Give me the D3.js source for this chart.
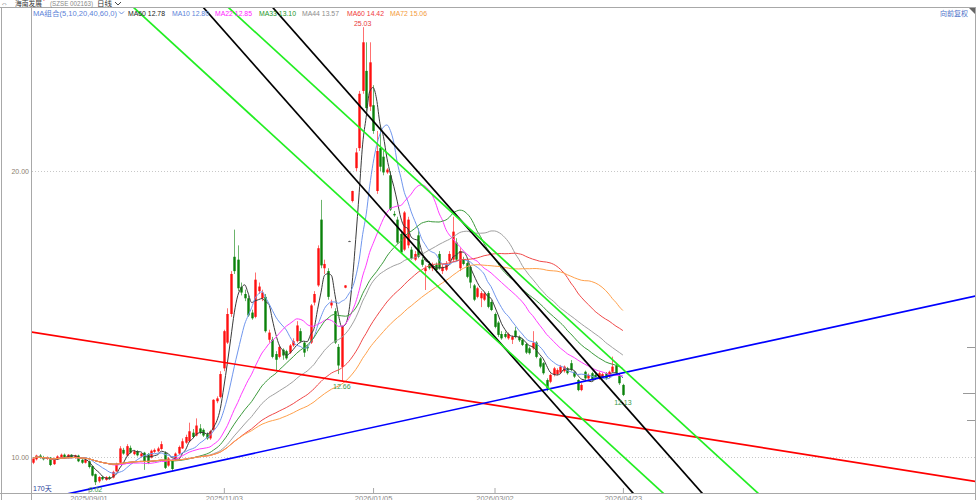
<!DOCTYPE html>
<html><head><meta charset="utf-8">
<script src="https://cdn.jsdelivr.net/npm/d3@7"></script>
<style>
html,body{margin:0;padding:0;background:#fff;}
svg{display:block;font-family:"Liberation Sans","Noto Sans CJK SC",sans-serif;}
</style></head>
<body>
<svg id="chart" width="976" height="500"></svg>
<script>
// ---------- DATA ----------
const opens = [9.80,9.92,10.05,10.00,9.93,9.98,9.75,9.92,9.98,10.08,9.98,10.08,9.98,10.05,9.90,9.80,9.85,9.68,9.40,9.15,
9.30,9.20,9.30,9.28,9.50,9.80,10.25,10.05,10.32,10.10,10.20,10.02,10.15,10.10,9.98,10.18,10.20,10.28,10.15,9.70,
9.88,9.90,10.12,10.30,10.50,10.55,10.85,10.75,11.00,10.95,10.80,10.65,10.95,11.95,12.10,13.10,14.00,15.00,17.00,16.90,
15.95,15.70,15.55,15.05,14.90,15.80,15.55,15.60,14.10,14.10,13.60,13.50,13.75,13.70,13.65,13.90,14.05,14.40,14.00,13.86,
14.00,15.40,16.00,18.30,16.60,16.50,15.30,15.10,13.85,13.15,15.92,17.55,18.95,20.10,20.80,22.80,23.50,22.25,22.30,19.30,
20.80,20.50,19.95,19.85,18.50,18.30,17.80,17.25,17.40,17.25,16.90,17.75,16.90,16.50,16.75,16.60,16.72,17.10,16.50,16.55,
16.85,16.90,17.50,16.60,16.90,16.78,16.65,16.00,15.60,15.55,15.50,15.73,15.42,15.00,14.70,14.30,14.30,14.15,14.10,14.42,
14.20,14.10,13.95,13.80,13.80,14.00,13.45,13.28,12.69,12.63,12.87,12.90,12.95,13.00,13.10,13.28,12.98,12.69,12.34,12.98,
12.75,12.93,12.87,12.75,12.80,12.93,12.80,12.98,13.20,12.87,12.52];
const highs = [10.00,10.08,10.10,10.04,10.02,10.00,9.98,10.06,10.12,10.12,10.10,10.10,10.08,10.08,9.94,9.93,9.88,9.70,9.42,9.33,
9.34,9.33,9.34,9.52,9.80,10.38,10.32,10.45,10.40,10.25,10.24,10.16,10.18,10.14,10.26,10.30,10.36,10.55,10.20,10.00,
9.92,10.16,10.40,10.65,10.78,11.20,10.98,11.35,11.15,11.00,10.86,10.95,12.02,12.12,13.00,14.45,15.20,16.50,17.95,17.40,
16.10,15.85,15.65,15.15,16.45,16.10,15.85,15.70,14.45,14.20,13.70,13.92,13.80,13.75,13.95,14.15,14.75,14.50,14.05,13.92,
15.35,15.80,17.40,18.99,16.90,16.60,15.50,15.20,13.95,14.60,16.01,17.56,19.31,20.80,22.80,25.03,24.50,24.50,23.00,21.40,
21.60,20.70,20.10,20.00,18.60,18.40,17.90,18.60,18.40,17.35,17.20,18.00,17.00,16.70,16.85,16.80,16.80,17.20,16.75,16.85,
17.20,18.40,17.65,17.30,17.00,16.85,16.70,16.05,15.95,15.80,15.78,15.80,15.48,15.05,14.75,14.40,14.38,14.35,14.25,14.55,
14.25,14.15,14.00,13.85,14.40,14.05,13.50,13.32,12.75,12.92,13.15,13.10,13.22,13.20,13.15,13.39,13.02,12.72,12.58,13.02,
12.92,12.98,12.92,12.98,12.95,12.97,13.02,13.51,13.25,12.90,12.56];
const lows = [9.75,9.88,9.94,9.88,9.90,9.68,9.72,9.90,9.95,9.97,9.95,9.96,9.94,9.82,9.76,9.77,9.60,9.32,9.02,9.10,
9.18,9.17,9.20,9.25,9.48,9.78,10.08,10.02,10.12,10.06,10.02,9.98,9.55,9.75,9.95,10.14,10.16,10.25,9.58,9.66,
9.50,9.86,10.08,10.28,10.46,10.52,10.66,10.72,10.80,10.70,10.60,10.60,10.90,11.88,12.05,13.00,13.95,14.90,16.40,15.80,
15.65,15.45,14.90,14.80,14.85,15.70,15.45,14.35,14.00,13.45,13.00,13.45,13.40,13.40,13.60,13.85,14.00,14.00,13.50,13.70,
13.95,15.30,15.95,16.60,16.40,15.50,15.20,13.95,12.90,12.66,15.90,17.54,18.90,20.00,20.70,22.70,22.10,22.10,21.30,19.20,
20.00,19.85,19.90,18.60,18.40,17.45,17.10,17.20,17.30,16.90,16.85,16.95,16.65,15.84,16.55,16.50,16.45,16.55,16.40,16.50,
16.80,16.85,16.85,16.50,16.70,16.25,15.90,15.45,15.55,15.24,15.45,15.20,15.10,14.50,14.20,14.10,14.15,14.10,13.95,14.15,
14.02,13.88,13.60,13.58,13.75,13.45,13.10,12.88,12.30,12.58,12.82,12.85,12.90,12.95,12.88,13.00,12.76,12.30,12.30,12.70,
12.70,12.65,12.70,12.70,12.75,12.70,12.76,12.94,12.88,12.52,12.13];
const closes = [9.95,10.05,9.97,9.92,9.98,9.72,9.95,10.02,10.08,10.00,10.08,10.00,10.06,9.85,9.80,9.90,9.65,9.35,9.12,9.30,
9.22,9.30,9.25,9.48,9.75,10.30,10.12,10.38,10.15,10.20,10.06,10.12,9.85,9.80,10.22,10.25,10.30,10.45,9.62,9.95,
9.58,10.12,10.35,10.55,10.70,10.90,10.70,11.10,10.85,10.75,10.65,10.90,12.00,12.05,12.90,14.40,15.00,16.40,16.50,15.90,
15.75,15.55,14.95,14.85,16.20,15.96,15.75,14.40,14.35,13.50,13.40,13.85,13.55,13.45,13.90,14.05,14.60,14.05,13.65,13.80,
15.30,15.70,17.30,16.70,16.75,15.60,15.40,14.00,13.20,14.55,16.00,17.55,19.30,20.65,22.70,24.50,22.20,23.80,21.40,20.70,
20.15,19.95,20.05,18.65,18.45,17.50,17.15,18.55,18.30,16.95,17.10,17.00,16.72,16.60,16.60,16.70,16.54,16.60,16.65,16.75,
17.10,17.88,16.90,17.20,16.75,16.30,16.10,15.50,15.90,15.73,15.72,15.25,15.14,14.55,14.27,14.15,14.20,14.30,14.20,14.20,
14.08,13.92,13.65,13.63,14.00,13.50,13.16,12.93,12.40,12.87,13.10,13.04,13.16,13.16,12.93,13.04,12.81,12.34,12.52,12.75,
12.87,12.69,12.75,12.93,12.90,12.75,12.98,13.16,12.93,12.58,12.17];

const maPeriods = [5, 10, 22, 33, 44, 60, 72];
const maColors  = ["#3a3a3a", "#6f96ee", "#ff3cff", "#3c9a3c", "#a0a0a0", "#f04848", "#ffa04a"];
const maLabels  = ["MA60 12.78", "MA10 12.80", "MA22 12.85", "MA33 13.10", "MA44 13.57", "MA60 14.42", "MA72 15.06"];
const maLabelColors = ["#222222", "#5b82d8", "#ff22ff", "#22962a", "#8c8c8c", "#f03a3a", "#f39a3a"];

const yTicks = [10, 20];
const xTickIdx = [16, 55, 98, 133, 170];
const xTickLabels = ["2025/09/01", "2025/11/03", "2026/01/05", "2026/03/02", "2026/04/23"];
const rightTicks = [13.85, 12.24, 11.29];

// trend lines given as two anchor points (candle index, price)
const trendLines = [
  {i1: -0.86, p1: 14.38, i2: 85.6,  p2: 12.72, color: "#ff0000"},
  {i1: 10.66, p1: 8.73,  i2: 85.6,  p2: 10.71, color: "#0000ff"},
  {i1: 84.15, p1: 23.65, i2: 192.8, p2: 8.74,  color: "#000000"},
  {i1: 84.15, p1: 20.91, i2: 172.9, p2: 8.74,  color: "#000000"},
  {i1: 84.15, p1: 22.62, i2: 167.1, p2: 13.39, color: "#22ee22"},
  {i1: 84.15, p1: 19.58, i2: 167.1, p2: 10.35, color: "#22ee22"}
];
const lowMarks = [18, 89, 170];

// ---------- CHART ----------
const svg = d3.select("#chart");
const P = {l: 32, r: 975, t: 8, b: 493};
const n = closes.length;
const x = d3.scaleLinear().domain([0, n - 1]).range([33, 622.9]);
const y = d3.scaleLinear().domain([10, 20]).range([457, 171]);
const FONT = 7;

svg.append("defs").append("clipPath").attr("id", "clip")
  .append("rect").attr("x", P.l).attr("y", P.t).attr("width", P.r - P.l).attr("height", P.b - P.t);

// frame
const frame = svg.append("g").attr("stroke", "#a8a8a8").attr("fill", "none");
frame.append("line").attr("x1", 0).attr("x2", 976).attr("y1", 7.5).attr("y2", 7.5);
frame.append("line").attr("x1", 1.5).attr("x2", 1.5).attr("y1", 7.5).attr("y2", 500);
frame.append("line").attr("x1", 31.5).attr("x2", 31.5).attr("y1", 7.5).attr("y2", 500);
frame.append("line").attr("x1", 975.5).attr("x2", 975.5).attr("y1", 7.5).attr("y2", 500);

// grid (dotted)
svg.append("g").selectAll("line").data(yTicks).join("line")
  .attr("x1", P.l).attr("x2", P.r)
  .attr("y1", d => Math.round(y(d)) + 0.5).attr("y2", d => Math.round(y(d)) + 0.5)
  .attr("stroke", "#c8c8c8").attr("stroke-dasharray", "1,2");

// y axis labels
const yAxis = d3.axisLeft(y).tickValues(yTicks).tickFormat(d3.format(".2f")).tickSize(0).tickPadding(2);
const gy = svg.append("g").attr("transform", "translate(31,0)").call(yAxis);
gy.select(".domain").remove();
gy.selectAll("text").attr("fill", "#8a7f70").style("font-size", FONT + "px")
  .style("font-family", "Liberation Sans");

// x axis
const xAxis = d3.axisBottom(x).tickValues(xTickIdx).tickFormat((d, i) => xTickLabels[i])
  .tickSizeInner(-5).tickSizeOuter(0).tickPadding(2.5);
const gx = svg.append("g").attr("transform", `translate(0,${P.b})`).call(xAxis);
gx.select(".domain").remove();
gx.selectAll("line").attr("stroke", "#a8a8a8");
gx.selectAll("text").attr("fill", "#8a8a8a").style("font-size", "7.5px").style("font-family", "Liberation Sans");
svg.append("line").attr("x1", 0).attr("x2", 976).attr("y1", P.b + 0.5).attr("y2", P.b + 0.5).attr("stroke", "#a8a8a8");

// right side ticks
svg.append("g").selectAll("line").data(rightTicks).join("line")
  .attr("x1", (d, i) => i === 1 ? 963 : 967).attr("x2", 975)
  .attr("y1", d => Math.round(y(d)) + 0.5).attr("y2", d => Math.round(y(d)) + 0.5)
  .attr("stroke", "#999");

const plot = svg.append("g").attr("clip-path", "url(#clip)");

// candles
const idx = d3.range(n);
const bw = 2.4;
const UP = "#ff1010", DN = "#0a820a";
const candle = plot.append("g");
candle.selectAll("line").data(idx).join("line")
  .attr("x1", i => Math.round(x(i)) + 0.5).attr("x2", i => Math.round(x(i)) + 0.5)
  .attr("y1", i => y(highs[i])).attr("y2", i => y(lows[i]))
  .attr("stroke", i => closes[i] > opens[i] ? "#ff7070" : closes[i] < opens[i] ? "#6cb46c" : "#666")
  .attr("stroke-width", 1);
candle.selectAll("rect").data(idx).join("rect")
  .attr("x", i => Math.round(x(i)) + 0.5 - bw / 2)
  .attr("width", bw)
  .attr("y", i => y(Math.max(opens[i], closes[i])))
  .attr("height", i => Math.max(1, Math.abs(y(opens[i]) - y(closes[i]))))
  .attr("fill", i => closes[i] > opens[i] ? UP : closes[i] < opens[i] ? DN : "#555");

// moving averages
maPeriods.forEach((p, k) => {
  const vals = closes.map((c, i) => d3.mean(closes.slice(Math.max(0, i - p + 1), i + 1)));
  plot.append("path").datum(vals)
    .attr("fill", "none").attr("stroke", maColors[k]).attr("stroke-width", 1)
    .attr("d", d3.line().x((d, i) => x(i)).y(d => y(d)).curve(d3.curveMonotoneX));
});

// trend lines
trendLines.forEach(t => {
  const s = (t.p2 - t.p1) / (t.i2 - t.i1);
  const a = -40, b = 320;
  plot.append("line")
    .attr("x1", x(a)).attr("y1", y(t.p1 + s * (a - t.i1)))
    .attr("x2", x(b)).attr("y2", y(t.p1 + s * (b - t.i1)))
    .attr("stroke", t.color).attr("stroke-width", 1.7);
});

// extreme labels
const hiIdx = d3.maxIndex(highs);
svg.append("text").attr("x", x(hiIdx)).attr("y", y(highs[hiIdx]) - 1.5)
  .attr("text-anchor", "middle").attr("fill", "#e83a3a").style("font-size", FONT + "px")
  .text(highs[hiIdx].toFixed(2));
svg.append("g").selectAll("text").data(lowMarks).join("text")
  .attr("x", i => x(i)).attr("y", i => Math.min(y(lows[i]) + 8.5, 492))
  .attr("text-anchor", "middle").attr("fill", "#3a9a4a").style("font-size", FONT + "px")
  .text(i => lows[i].toFixed(2));

// day count
svg.append("text").attr("x", 33).attr("y", 491).attr("fill", "#2a3f9a")
  .style("font-size", FONT + "px").text(n - 1 + "天");

// header row 1
const h1 = svg.append("g").style("font-size", "7px");
h1.append("text").attr("x", 1).attr("y", 5.5).attr("fill", "#555").text("⇔");
h1.append("text").attr("x", 15).attr("y", 5.5).attr("fill", "#333")
  .attr("textLength", 27).attr("lengthAdjust", "spacingAndGlyphs").text("海南发展");
h1.append("text").attr("x", 43).attr("y", 3).attr("fill", "#e33").style("font-size", "5px").text("*");
h1.append("text").attr("x", 50).attr("y", 5.5).attr("fill", "#888")
  .attr("textLength", 43).attr("lengthAdjust", "spacingAndGlyphs").text("(SZSE 002163)");
h1.append("text").attr("x", 97).attr("y", 5.5).attr("fill", "#333")
  .attr("textLength", 15).attr("lengthAdjust", "spacingAndGlyphs").text("日线");
h1.append("path").attr("d", "M115,2 L118,5 L121,2").attr("fill", "none").attr("stroke", "#333").attr("stroke-width", 0.9);

// header row 2 (MA legend)
const h2 = svg.append("g").style("font-size", FONT + "px");
h2.append("text").attr("x", 33).attr("y", 15.5).attr("fill", "#5b82d8")
  .attr("textLength", 84).attr("lengthAdjust", "spacingAndGlyphs").text("MA组合(5,10,20,40,60,0)");
h2.append("path").attr("d", "M119,11.5 L121.5,14 L124,11.5").attr("fill", "none").attr("stroke", "#5b82d8").attr("stroke-width", 0.9);
const labelX = [128, 172, 215, 259, 302, 347, 390];
maLabels.forEach((t, k) => {
  h2.append("text").attr("x", labelX[k]).attr("y", 15.5).attr("fill", maLabelColors[k])
    .attr("textLength", 37).attr("lengthAdjust", "spacingAndGlyphs").text(t);
});
h2.append("text").attr("x", 940).attr("y", 15.5).attr("fill", "#4b6fc8")
  .attr("textLength", 28).attr("lengthAdjust", "spacingAndGlyphs").text("向前复权");
svg.append("path").attr("d", "M969,8 L975,8 L975,14 Z").attr("fill", "#666");
</script>
</body></html>
